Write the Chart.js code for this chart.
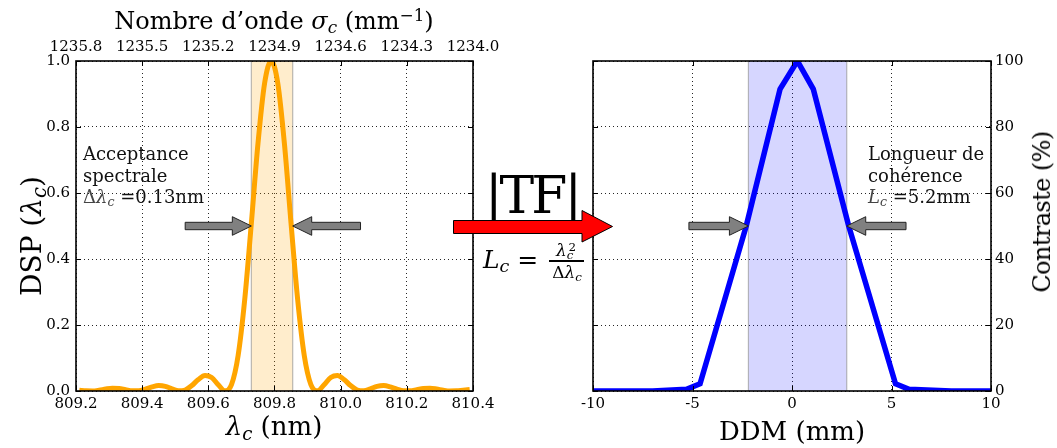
<!DOCTYPE html>
<html>
<head>
<meta charset="utf-8">
<script src="https://cdn.jsdelivr.net/npm/chart.js@4.4.1/dist/chart.umd.min.js"></script>
<style>
  body { margin: 0; background: #fff; }
  #page { position: relative; width: 1057px; height: 448px; overflow: hidden; font-family: 'DejaVu Serif', serif; color: #000; }
  canvas { position: absolute; left: 0; top: 0; }
  .txt { position: absolute; white-space: nowrap; line-height: 1; }
  .ann { font-size: 18px; line-height: 21.5px; color: #111; }
  sub { font-size: 0.7em; vertical-align: -0.25em; line-height: 0; }
  sup { font-size: 0.7em; vertical-align: 0.45em; line-height: 0; }
  .ctr { transform: translateX(-50%); }
  .rot { transform: translate(-50%, -50%) rotate(-90deg); }
</style>
</head>
<body>
<div id="page">
  <canvas id="dspChart" width="1057" height="448"></canvas>
  <canvas id="ddmChart" width="1057" height="448"></canvas>

  <div class="txt ctr" style="left:274px; top:8.5px; font-size:24px;">Nombre d’onde <i>σ</i><sub><i>c</i></sub> (mm<sup>−1</sup>)</div>
  <div class="txt ctr" style="left:274px; top:413px; font-size:26px;"><i>λ</i><sub><i>c</i></sub> (nm)</div>
  <div class="txt ctr" style="left:792px; top:418px; font-size:26px;">DDM (mm)</div>
  <div class="txt rot" style="left:32px; top:236px; font-size:28px;">DSP (<i>λ</i><sub><i>c</i></sub>)</div>
  <div class="txt rot" style="left:1042px; top:212px; font-size:24px; letter-spacing:-0.6px;">Contraste (%)</div>

  <div class="txt ann" style="left:83px; top:143px;">Acceptance<br>spectrale<br><span style="color:#444">Δ<i>λ</i><sub><i>c</i></sub></span> =0.13nm</div>
  <div class="txt ann" style="left:868px; top:143px;">Longueur de<br>cohérence<br><span style="color:#444"><i>L</i><sub><i>c</i></sub></span> =5.2mm</div>

  <div class="txt ctr" style="left:532px; top:169px; font-size:52px; letter-spacing:-3px;">|TF|</div>
  <div class="txt" style="left:483px; top:247px; font-size:25px;"><i>L</i><sub><i>c</i></sub> =</div>
  <div class="txt ctr" style="left:566px; top:242px; font-size:17px;"><i>λ</i><sub><i>c</i></sub><sup style="margin-left:-0.42em">2</sup></div>
  <div style="position:absolute; left:549px; top:260px; width:35px; height:1.5px; background:#000;"></div>
  <div class="txt ctr" style="left:567px; top:264px; font-size:17px;">Δ<i>λ</i><sub><i>c</i></sub></div>

  <svg style="position:absolute; left:0; top:0;" width="1057" height="448">
    <polygon points="453.5,220.5 582,220.5 582,210.5 612.5,226.5 582,242 582,233.5 453.5,233.5"
             fill="#ff0000" stroke="#000" stroke-width="1"/>
  </svg>
</div>

<script>
// spectral density vs wavelength (nm)
const lambdaNm = [
  809.21, 809.23, 809.25, 809.27, 809.29, 809.31, 809.33, 809.35, 809.37, 809.39,
  809.41, 809.43, 809.45, 809.47, 809.49, 809.51, 809.53, 809.55, 809.57, 809.59,
  809.61, 809.63, 809.65, 809.67, 809.69, 809.71, 809.73, 809.75, 809.77, 809.79,
  809.81, 809.83, 809.85, 809.87, 809.89, 809.91, 809.93, 809.95, 809.97, 809.99,
  810.01, 810.03, 810.05, 810.07, 810.09, 810.11, 810.13, 810.15, 810.17, 810.19,
  810.21, 810.23, 810.25, 810.27, 810.29, 810.31, 810.33, 810.35, 810.37, 810.39
];
const dsp = [
  0.0026, 0.0005, 0.0002, 0.0024, 0.006, 0.0083, 0.0073, 0.0038, 0.0005, 0.0007,
  0.0057, 0.0124, 0.0164, 0.014, 0.0066, 0.0005, 0.003, 0.0165, 0.035, 0.047,
  0.041, 0.019, 0.0005, 0.019, 0.107, 0.277, 0.508, 0.749, 0.932, 1.0,
  0.932, 0.749, 0.508, 0.277, 0.107, 0.019, 0.0005, 0.019, 0.041, 0.047,
  0.035, 0.0165, 0.003, 0.0005, 0.0066, 0.014, 0.0164, 0.0124, 0.0057, 0.0007,
  0.0005, 0.0038, 0.0073, 0.0083, 0.006, 0.0024, 0.0002, 0.0005, 0.0026, 0.0046
];

// fringe contrast vs optical path difference (mm)
const ddmMm = [-10, -7, -5.3, -4.62, -2.3, -0.6, 0.27, 1.07, 2.85, 5.2, 5.88, 8, 10];
const contrast = [0, 0, 0.5, 2.2, 50, 91.5, 100, 91.5, 50, 2.2, 0.5, 0, 0];

// ticks
const lambdaTicks = [809.2, 809.4, 809.6, 809.8, 810.0, 810.2, 810.4];
const waveLabels = ['1235.8', '1235.5', '1235.2', '1234.9', '1234.6', '1234.3', '1234.0'];
const dspTicks = [0, 0.2, 0.4, 0.6, 0.8, 1.0];
const ddmTicks = [-10, -5, 0, 5, 10];
const contrastTicks = [0, 20, 40, 60, 80, 100];

// annotations (half max width)
const acceptanceBand = [809.73, 809.855];
const coherenceBand = [-2.19, 2.75];

const tickFont = { family: 'DejaVu Serif', size: 15 };

function drawArrow(ctx, xTail, xTip, y) {
    const dir = Math.sign(xTip - xTail);
    const xb = xTip - dir * 19;
    ctx.beginPath();
    ctx.moveTo(xTail, y - 3.7);
    ctx.lineTo(xb, y - 3.7);
    ctx.lineTo(xb, y - 9.3);
    ctx.lineTo(xTip, y);
    ctx.lineTo(xb, y + 9.3);
    ctx.lineTo(xb, y + 3.7);
    ctx.lineTo(xTail, y + 3.7);
    ctx.closePath();
    ctx.fillStyle = '#808080';
    ctx.fill();
    ctx.strokeStyle = '#222';
    ctx.lineWidth = 1;
    ctx.stroke();
}

const framePlugin = {
    id: 'frame',
    beforeDatasetsDraw(chart, args, opts) {
        const { ctx, chartArea: a, scales: { x } } = chart;
        const x0 = x.getPixelForValue(opts.band[0]);
        const x1 = x.getPixelForValue(opts.band[1]);
        ctx.save();
        ctx.fillStyle = opts.bandColor;
        ctx.fillRect(x0, a.top, x1 - x0, a.bottom - a.top);
        ctx.strokeStyle = 'rgba(140,140,140,0.6)';
        ctx.lineWidth = 1.2;
        ctx.beginPath();
        ctx.moveTo(x0, a.top); ctx.lineTo(x0, a.bottom);
        ctx.moveTo(x1, a.top); ctx.lineTo(x1, a.bottom);
        ctx.stroke();
        ctx.restore();
    },
    afterDatasetsDraw(chart, args, opts) {
        const { ctx, scales: { x, y } } = chart;
        ctx.save();
        opts.arrows.forEach(ar => {
            drawArrow(ctx, x.getPixelForValue(ar[0]), x.getPixelForValue(ar[1]), y.getPixelForValue(ar[2]));
        });
        ctx.restore();
    },
    afterDraw(chart) {
        const { ctx, chartArea: a, scales: { x, y } } = chart;
        ctx.save();
        ctx.strokeStyle = '#000';
        ctx.lineWidth = 1;
        ctx.beginPath();
        x.ticks.forEach(t => {
            const px = Math.round(x.getPixelForValue(t.value)) + 0.5;
            ctx.moveTo(px, a.bottom); ctx.lineTo(px, a.bottom - 5);
            ctx.moveTo(px, a.top); ctx.lineTo(px, a.top + 5);
        });
        y.ticks.forEach(t => {
            const py = Math.round(y.getPixelForValue(t.value)) + 0.5;
            ctx.moveTo(a.left, py); ctx.lineTo(a.left + 5, py);
            ctx.moveTo(a.right, py); ctx.lineTo(a.right - 5, py);
        });
        ctx.stroke();
        ctx.lineWidth = 1.6;
        ctx.strokeRect(a.left, a.top, a.right - a.left, a.bottom - a.top);
        ctx.restore();
    }
};

function gridOpts() {
    return { color: 'rgba(0,0,0,0.85)', lineWidth: 1, drawTicks: false };
}

new Chart(document.getElementById('dspChart'), {
    type: 'line',
    data: {
        datasets: [{
            data: lambdaNm.map((v, i) => ({ x: v, y: dsp[i] })),
            borderColor: '#ffa500',
            borderWidth: 5,
            pointRadius: 0,
            cubicInterpolationMode: 'monotone',
            clip: 0
        }]
    },
    options: {
        responsive: false,
        devicePixelRatio: 1,
        animation: false,
        layout: { padding: { left: 0, top: 0, bottom: 0, right: 1057 - 473 } },
        plugins: {
            legend: { display: false },
            tooltip: { enabled: false },
            frame: {
                band: acceptanceBand,
                bandColor: 'rgba(255,165,0,0.2)',
                arrows: [[809.53, acceptanceBand[0], 0.5], [810.06, acceptanceBand[1], 0.5]]
            }
        },
        scales: {
            x: {
                type: 'linear', position: 'bottom', min: 809.2, max: 810.4,
                afterBuildTicks: s => { s.ticks = lambdaTicks.map(v => ({ value: v })); },
                ticks: { font: tickFont, color: '#000', padding: 4, maxRotation: 0, autoSkip: false, callback: v => v.toFixed(1) },
                grid: gridOpts(),
                border: { display: false, dash: [1, 3] },
                afterFit: s => { s.height = 57; }
            },
            xTop: {
                type: 'linear', position: 'top', min: 809.2, max: 810.4,
                afterBuildTicks: s => { s.ticks = lambdaTicks.map(v => ({ value: v })); },
                ticks: { font: tickFont, color: '#000', padding: 5, maxRotation: 0, autoSkip: false, callback: (v, i) => waveLabels[i] },
                grid: { display: false, drawTicks: false },
                border: { display: false },
                afterFit: s => { s.height = 61; }
            },
            y: {
                min: 0, max: 1,
                afterBuildTicks: s => { s.ticks = dspTicks.map(v => ({ value: v })); },
                ticks: { font: tickFont, color: '#000', padding: 6, callback: v => v.toFixed(1) },
                grid: gridOpts(),
                border: { display: false, dash: [1, 3] },
                afterFit: s => { s.width = 76; }
            }
        }
    },
    plugins: [framePlugin]
});

new Chart(document.getElementById('ddmChart'), {
    type: 'line',
    data: {
        datasets: [{
            data: ddmMm.map((v, i) => ({ x: v, y: contrast[i] })),
            borderColor: '#0000ff',
            borderWidth: 5.5,
            pointRadius: 0,
            tension: 0,
            clip: 0
        }]
    },
    options: {
        responsive: false,
        devicePixelRatio: 1,
        animation: false,
        layout: { padding: { left: 593, top: 61, bottom: 0, right: 0 } },
        plugins: {
            legend: { display: false },
            tooltip: { enabled: false },
            frame: {
                band: coherenceBand,
                bandColor: 'rgba(0,0,255,0.16)',
                arrows: [[-5.18, coherenceBand[0], 50], [5.73, coherenceBand[1], 50]]
            }
        },
        scales: {
            x: {
                type: 'linear', position: 'bottom', min: -10, max: 10,
                afterBuildTicks: s => { s.ticks = ddmTicks.map(v => ({ value: v })); },
                ticks: { font: tickFont, color: '#000', padding: 4, maxRotation: 0, autoSkip: false, callback: v => String(v) },
                grid: gridOpts(),
                border: { display: false, dash: [1, 3] },
                afterFit: s => { s.height = 57; }
            },
            y: {
                position: 'right', min: 0, max: 100,
                afterBuildTicks: s => { s.ticks = contrastTicks.map(v => ({ value: v })); },
                ticks: { font: tickFont, color: '#000', padding: 4, callback: v => String(v) },
                grid: gridOpts(),
                border: { display: false, dash: [1, 3] },
                afterFit: s => { s.width = 66; }
            }
        }
    },
    plugins: [framePlugin]
});
</script>
</body>
</html>
